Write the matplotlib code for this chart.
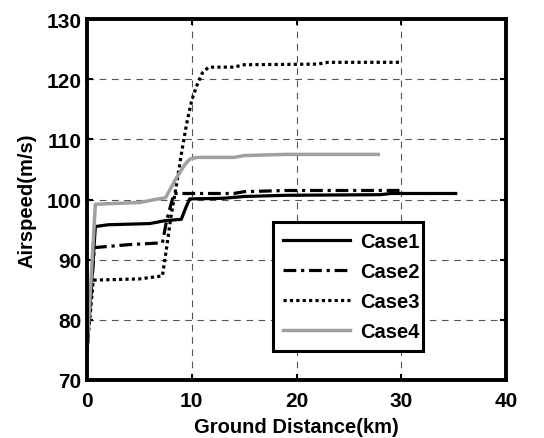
import matplotlib
matplotlib.use("Agg")
import matplotlib.pyplot as plt

# data (km, m/s)
x1 = [0, 0.8, 2, 6, 7.5, 9.0, 9.4, 9.8, 13, 15, 19, 28, 29, 35.2]
y1 = [75, 95.5, 95.8, 96.0, 96.5, 96.7, 98.5, 100.1, 100.2, 100.5, 100.7, 100.8, 101.0, 101.0]

x2 = [0, 0.7, 2, 4, 7.2, 7.6, 8.3, 14, 15, 19, 30]
y2 = [75, 92.0, 92.2, 92.5, 92.8, 96.5, 101.0, 101.0, 101.3, 101.5, 101.5]

x3 = [0, 0.6, 5, 7.2, 7.6, 8.0, 8.5, 9.0, 9.5, 10.0, 10.5, 11.0, 11.6, 14, 15, 22, 23, 30]
y3 = [75, 86.6, 86.8, 87.3, 92, 97, 102, 107.5, 112.5, 116.5, 119, 121, 122, 122, 122.4, 122.5, 122.8, 122.8]

x4 = [0, 0.8, 2, 5, 6.5, 7.5, 8.5, 9.3, 9.8, 10.5, 14, 15, 19, 27.8]
y4 = [75, 99.2, 99.3, 99.5, 100.0, 100.3, 103.5, 105.7, 106.7, 107.0, 107.0, 107.3, 107.5, 107.5]

labels = ['Case1', 'Case2', 'Case3', 'Case4']

plt.rcParams['font.family'] = ['Liberation Sans', 'DejaVu Sans']
plt.rcParams['font.weight'] = 'bold'

fig = plt.figure(figsize=(5.44, 4.39), dpi=100)
ax = fig.add_axes([87/544, 1 - 381/439, 419/544, 361/439])

ax.plot(x1, y1, color='black', lw=2.3, ls='-', label=labels[0])
ax.plot(x2, y2, color='black', lw=2.3, ls=(0, (4, 1.5, 1, 1.5)), label=labels[1])
ax.plot(x3, y3, color='black', lw=2.3, ls=(0, (1, 1)), label=labels[2])
ax.plot(x4, y4, color='#a0a0a0', lw=2.5, ls='-', label=labels[3])

ax.set_xlim(0, 40)
ax.set_ylim(70, 130)
ax.set_xticks([0, 10, 20, 30, 40])
ax.set_yticks([70, 80, 90, 100, 110, 120, 130])
ax.grid(True, color='#555555', ls=(0, (6, 5)), lw=0.8)
ax.tick_params(direction='in', top=True, right=True, length=4, width=1.5,
               labelsize=15, pad=4)
ax.tick_params(axis='x', pad=8)
for s in ax.spines.values():
    s.set_linewidth(2.8)

ax.set_xlabel('Ground Distance(km)', fontsize=14.5, fontweight='bold', labelpad=5)
ax.set_ylabel('Airspeed(m/s)', fontsize=14.5, fontweight='bold', labelpad=7)

leg = ax.legend(loc='lower left', bbox_to_anchor=(0.444, 0.08, 0.358, 0.36),
                mode='expand', fontsize=14.5, frameon=True, fancybox=False,
                handlelength=3.3, handletextpad=0.5, borderaxespad=0,
                labelspacing=0.55, borderpad=0.5)
leg.get_frame().set_edgecolor('black')
leg.get_frame().set_linewidth(2.2)
leg.get_frame().set_alpha(1)

fig.savefig('out.png', dpi=100)
